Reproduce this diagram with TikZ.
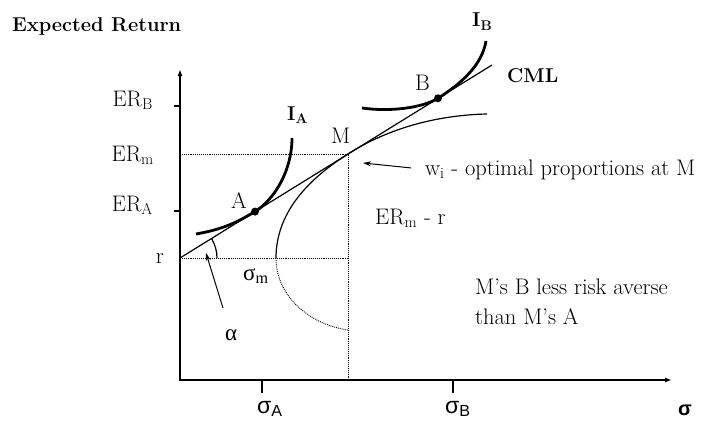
\documentclass[tikz,border=0pt]{standalone}
\usepackage{fontspec}
\newfontfamily\sansgr{Liberation Sans}
\newfontfamily\serifgr{Liberation Serif}
\usetikzlibrary{arrows.meta, calc}

\begin{document}
\begin{tikzpicture}[x=1pt, y=-1pt,
  lbl/.style={inner sep=0pt, font=\fontsize{22.5}{27}\selectfont},
  blbl/.style={inner sep=0pt, font=\fontsize{20}{24}\selectfont\bfseries},
  grlbl/.style={inner sep=0pt, font=\fontsize{23}{27}\selectfont\serifgr},
  sglbl/.style={inner sep=0pt, font=\fontsize{23}{27}\selectfont\sansgr},
  axisln/.style={line width=2pt, {Latex[length=7pt,width=5pt]}-{Latex[length=7pt,width=5pt]}},
  tickln/.style={line width=1.5pt},
  guide/.style={densely dotted, line width=0.9pt},
  thin curve/.style={line width=1.2pt},
  indiff/.style={line width=2.8pt},
  ptr/.style={-{Stealth[length=8pt,width=5pt]}, line width=1pt}
]
  \useasboundingbox (0,0) rectangle (701,423);

  \coordinate (O) at (180,380);
  \coordinate (ytop) at (180,69);
  \coordinate (xend) at (672,380);
  \coordinate (r) at (180,258);
  \coordinate (M) at (348,154);
  \coordinate (A) at (255,211.6);
  \coordinate (B) at (438,98.3);
  \coordinate (V) at (276,258);
  \coordinate (cmlend) at (492,65);
  \coordinate (ermax) at (180,154);
  \coordinate (rdot) at (348,258);
  \coordinate (Mfoot) at (348,380);
  \coordinate (angtip) at (206,253);
  \coordinate (wtip) at (363,163);

  \draw[axisln] (ytop) -- (O) -- (xend);
  \draw[tickln] (174,106) -- (180,106);
  \draw[tickln] (174,211) -- (180,211);
  \draw[tickln] (262,380) -- (262,393);
  \draw[tickln] (453,380) -- (453,393);

  \draw[guide] (ermax) -- (M) -- (Mfoot);
  \draw[guide] (r) -- (rdot);

  \draw[thin curve] (r) -- (cmlend);
  \draw[thin curve] (V) .. controls (276,215) and (305,181) .. (M)
    .. controls (390,127) and (440,115) .. (487,114);
  \draw[guide] (V) .. controls (276,298) and (312,325) .. (348,330);
  \draw[thin curve] ($(r)+(37,0)$) arc[start angle=0, end angle=-31.8, radius=37];

  \draw[indiff] (196,234) .. controls (225,229) and (239,221) .. (A)
    .. controls (275,199) and (292,170) .. (292,138);
  \draw[indiff] (362,108) .. controls (390,112) and (422,108) .. (B)
    .. controls (462,83) and (482,65) .. (486,41);
  \fill (A) circle[radius=4pt];
  \fill (B) circle[radius=4pt];

  \node[blbl, anchor=base west] (title) at (12,31) {Expected Return};
  \node[lbl, anchor=base east] (erb) at (153,106) {ER\textsubscript{B}};
  \node[lbl, anchor=base east] (erm) at (154,161) {ER\textsubscript{m}};
  \node[lbl, anchor=base east] (era) at (153,211) {ER\textsubscript{A}};
  \node[lbl, anchor=base east] (rlab) at (164,263) {r};
  \node[grlbl, anchor=base west] (sigm) at (243,280) {σ\textsubscript{m}};
  \node[grlbl, anchor=base west] (alab) at (225,340) {α};
  \node[lbl, anchor=base west] (labA) at (231,208) {A};
  \node[lbl, anchor=base west] (labB) at (415,90) {B};
  \node[lbl, anchor=base west] (labM) at (331,143) {M};
  \node[blbl, anchor=base west] (labIA) at (287,120) {I\textsubscript{A}};
  \node[blbl, anchor=base west] (labIB) at (472,27) {I\textsubscript{B}};
  \node[blbl, anchor=base west] (cml) at (507,82) {CML};
  \node[lbl, anchor=base west] (wlbl) at (425,175) {w\textsubscript{i} - optimal proportions at M};
  \node[lbl, anchor=base west] (erdiff) at (375,224) {ER\textsubscript{m} - r};
  \node[inner sep=0pt, font=\fontsize{22.5}{30}\selectfont, align=left, anchor=north west] (note) at (475,279)
    {M’s B less risk averse\\than M’s A};
  \node[sglbl, anchor=base west] (sigA) at (257,413) {σ\textsubscript{A}};
  \node[sglbl, anchor=base west] (sigB) at (445,413) {σ\textsubscript{B}};
  \node[sglbl, font=\fontsize{20}{24}\selectfont\sansgr\bfseries, anchor=base west] (sigax) at (678,415) {σ};

  \draw[ptr, shorten <=22pt] (alab) -- (angtip);
  \draw[ptr, shorten <=14pt] (wlbl.west) -- (wtip);
\end{tikzpicture}
\end{document}
